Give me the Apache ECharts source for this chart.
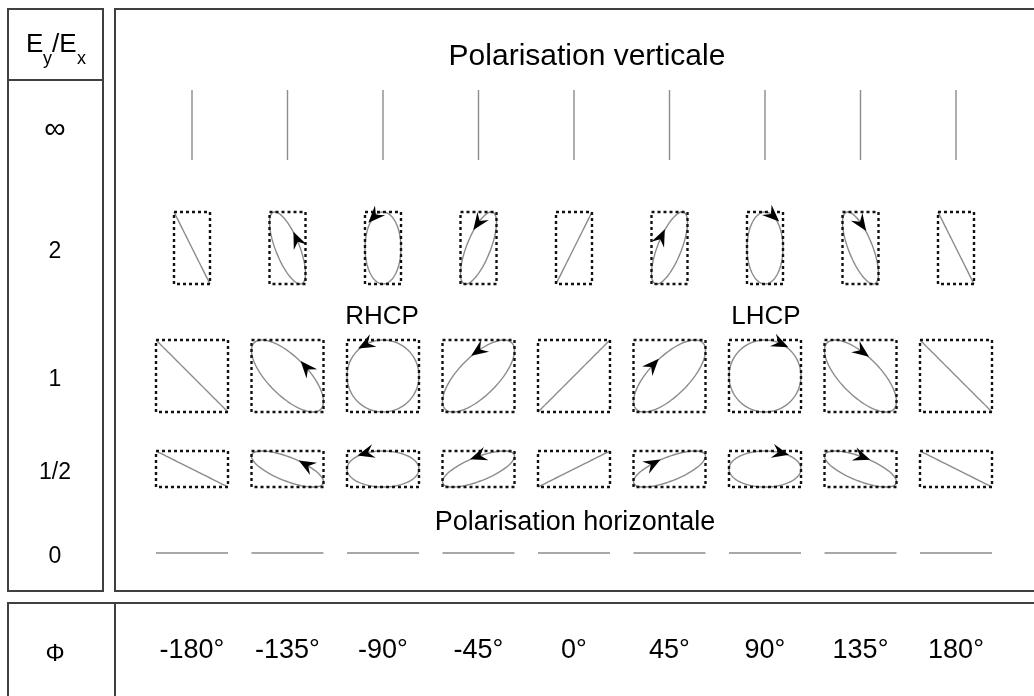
<!DOCTYPE html>
<html>
<head>
<meta charset="utf-8">
<style>
  html, body { margin: 0; padding: 0; background: #fff; }
  #chart { width: 1034px; height: 696px; }
</style>
</head>
<body>
<div id="chart"></div>
<script src="https://cdn.jsdelivr.net/npm/echarts@6.0.0/dist/echarts.min.js"></script>
<script>
// phase difference between Ey and Ex (degrees), one column each
const phases = [-180, -135, -90, -45, 0, 45, 90, 135, 180]
// amplitude ratio Ey/Ex, one row each, top to bottom
const ratios = [Infinity, 2, 1, 0.5, 0]
const ratioLabels = ['∞', '2', '1', '1/2', '0']
const phaseTitle = 'Φ'

const FONT = '"Liberation Sans", Arial, sans-serif'
const ROW_CENTERS = [125, 248, 376, 469, 553]
const PHASE_ROW = 651
const COL_LEFT = 192
const COL_RIGHT = 78
const HALF = 36 // px for an amplitude of 1
// where the rotation arrow sits on each ellipse (parameter angle, degrees)
const ARROW_AT = { '-135': 58, '-90': 118, '-45': 90, '45': -118, '90': -65, '135': -88 }

function arrowHead(px, py, dx, dy) {
  const len = Math.hypot(dx, dy) || 1
  dx /= len; dy /= len
  const nx = -dy, ny = dx
  return {
    type: 'polygon',
    shape: {
      points: [
        [px + dx * 9, py + dy * 9],
        [px - dx * 8 + nx * 7, py - dy * 8 + ny * 7],
        [px - dx * 2, py - dy * 2],
        [px - dx * 8 - nx * 7, py - dy * 8 - ny * 7]
      ]
    },
    style: { fill: '#000', stroke: null }
  }
}

function ellipseItem(ratio) {
  return function (params, api) {
    const phi = api.value(0)
    const c = api.coord([phi, 0])
    const u = api.size([0, 1])[1]
    let ax, ay
    if (ratio === Infinity) { ax = 0; ay = 0.97 }
    else if (ratio >= 1) { ax = 1 / ratio; ay = 1 }
    else { ax = 1; ay = ratio }
    ax *= u; ay *= u
    const rad = phi * Math.PI / 180
    const pts = []
    for (let d = 0; d <= 360; d += 4) {
      const t = d * Math.PI / 180
      pts.push([c[0] + ax * Math.cos(t), c[1] - ay * Math.cos(t + rad)])
    }
    const children = [{
      type: 'polyline',
      shape: { points: pts },
      style: { stroke: '#8c8c8c', fill: 'none', lineWidth: 1.4 }
    }]
    if (ax > 0 && ay > 0) {
      children.push({
        type: 'rect',
        shape: { x: c[0] - ax, y: c[1] - ay, width: 2 * ax, height: 2 * ay },
        style: { stroke: '#111', fill: 'none', lineWidth: 2.4, lineDash: [3, 3] }
      })
      const at = ARROW_AT[String(phi)]
      if (at !== undefined) {
        const t = at * Math.PI / 180
        const px = c[0] + ax * Math.cos(t)
        const py = c[1] - ay * Math.cos(t + rad)
        children.push(arrowHead(px, py, -ax * Math.sin(t), ay * Math.sin(t + rad)))
      }
    }
    return { type: 'group', children }
  }
}

// row label pushed a few px down with top padding on a rich token
const rowName = (label, size, drop) => ({
  name: '{a|' + label + '}',
  nameLocation: 'middle',
  nameGap: COL_LEFT - 55,
  nameRotate: 0,
  nameTextStyle: {
    align: 'center',
    verticalAlign: 'middle',
    rich: { a: { fontSize: size, color: '#000', fontFamily: FONT, padding: [drop * 2, 0, 0, 0] } }
  }
})

const grids = []
const xAxes = []
const yAxes = []
const series = []

ratios.forEach((r, i) => {
  grids.push({ left: COL_LEFT, right: COL_RIGHT, top: ROW_CENTERS[i] - HALF, height: HALF * 2 })
  xAxes.push({ gridIndex: i, type: 'value', min: -180, max: 180, show: false })
  yAxes.push(Object.assign({
    gridIndex: i, type: 'value', min: -1, max: 1,
    axisLine: { show: false }, axisTick: { show: false },
    axisLabel: { show: false }, splitLine: { show: false }
  }, rowName(ratioLabels[i], r === Infinity ? 30 : 23, r === Infinity ? 5 : 4)))
  series.push({
    type: 'custom',
    xAxisIndex: i,
    yAxisIndex: i,
    clip: false,
    silent: true,
    data: phases.map(p => [p, 0]),
    renderItem: ellipseItem(r)
  })
})

// phase row at the bottom
const pi = ratios.length
grids.push({ left: COL_LEFT, right: COL_RIGHT, top: PHASE_ROW - 10, height: 10 })
xAxes.push({
  gridIndex: pi, type: 'value', min: -180, max: 180, interval: 45,
  axisLine: { show: false }, axisTick: { show: false }, splitLine: { show: false },
  axisLabel: {
    margin: 0, verticalAlign: 'middle', fontSize: 27, color: '#000', fontFamily: FONT,
    showMinLabel: true, showMaxLabel: true,
    formatter: v => v + '°'
  }
})
yAxes.push(Object.assign({
  gridIndex: pi, type: 'value', min: -1, max: 1,
  axisLine: { show: false }, axisTick: { show: false },
  axisLabel: { show: false }, splitLine: { show: false }
}, rowName(phaseTitle, 24, 8)))

const frame = { stroke: '#404040', lineWidth: 2, fill: 'none' }
const txt = (x, y, s, size, align) => ({
  type: 'text', x, y, silent: true,
  style: { text: s, fontSize: size, fontFamily: FONT, fill: '#000', align: align || 'center', verticalAlign: 'middle' }
})

const graphic = [
  { type: 'rect', shape: { x: 8, y: 9, width: 95, height: 582 }, style: frame },
  { type: 'line', shape: { x1: 8, y1: 80, x2: 103, y2: 80 }, style: frame },
  { type: 'rect', shape: { x: 115, y: 9, width: 1000, height: 582 }, style: frame },
  { type: 'rect', shape: { x: 8, y: 603, width: 1100, height: 200 }, style: frame },
  { type: 'line', shape: { x1: 115, y1: 603, x2: 115, y2: 700 }, style: frame },
  txt(26, 45, 'E', 26, 'left'),
  txt(43, 59, 'y', 18, 'left'),
  txt(52, 45, '/E', 26, 'left'),
  txt(77, 59, 'x', 18, 'left'),
  txt(587, 57, 'Polarisation verticale', 30),
  txt(382, 317, 'RHCP', 26),
  txt(766, 317, 'LHCP', 26),
  txt(575, 523, 'Polarisation horizontale', 27)
]

const chart = echarts.init(document.getElementById('chart'))
chart.setOption({
  animation: false,
  grid: grids,
  xAxis: xAxes,
  yAxis: yAxes,
  series,
  graphic
})
</script>
</body>
</html>
